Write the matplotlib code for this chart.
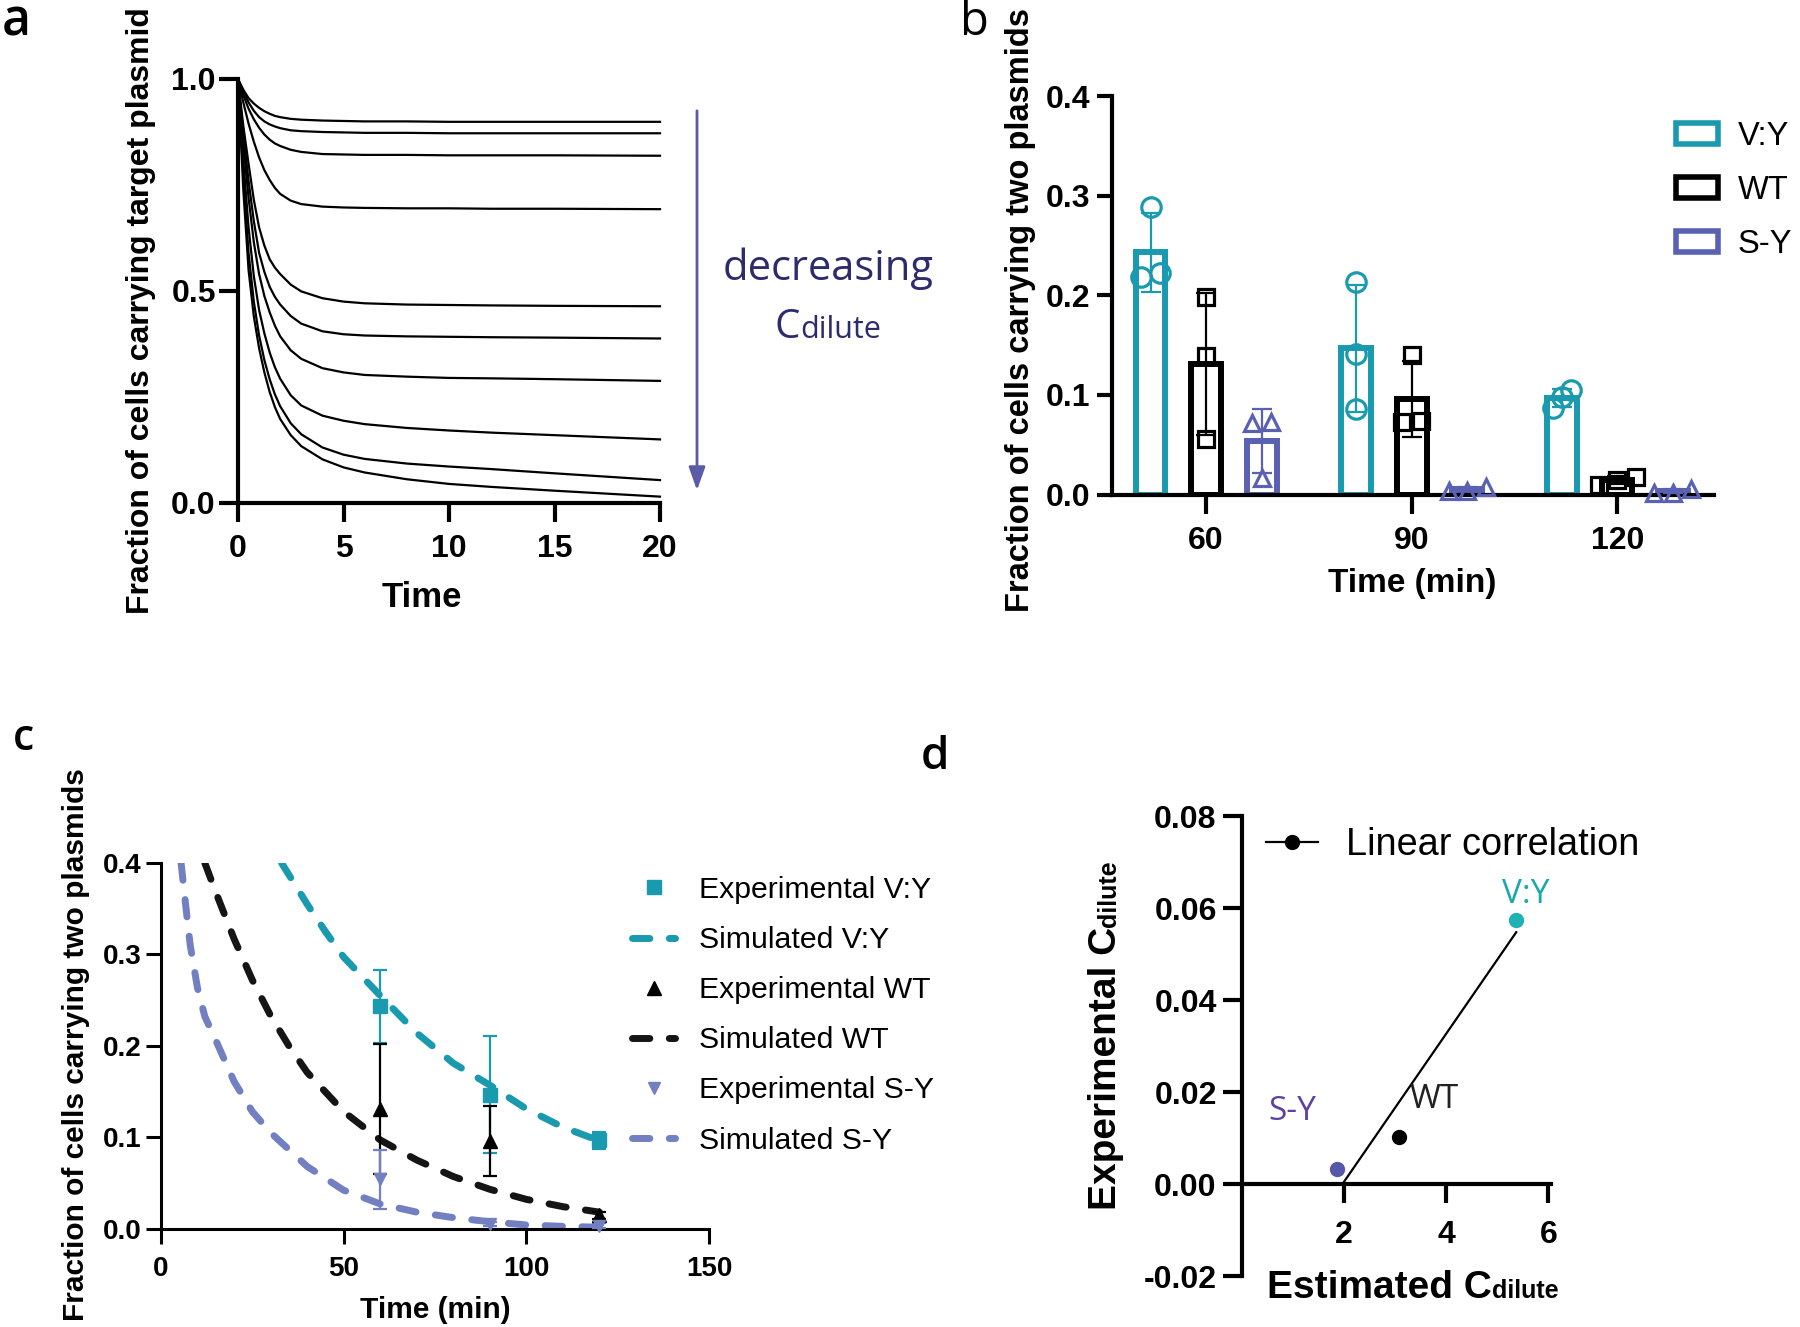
import numpy as np
import matplotlib
matplotlib.use('Agg')
import matplotlib.pyplot as plt
from matplotlib.patches import Patch
from matplotlib.lines import Line2D

# ---- data ----
# panel a: simulated fraction carrying target plasmid
time_a = [0, 0.25, 0.5, 0.75, 1, 1.25, 1.5, 1.75, 2, 2.5, 3, 4, 5, 6, 8, 10, 12, 15, 20]
frac_curves = [
    [1.0, 0.975, 0.955, 0.942, 0.932, 0.924, 0.918, 0.913, 0.910, 0.906, 0.904, 0.902, 0.901, 0.900, 0.900, 0.899, 0.899, 0.899, 0.899],
    [1.0, 0.970, 0.945, 0.925, 0.910, 0.900, 0.893, 0.888, 0.884, 0.879, 0.877, 0.875, 0.874, 0.873, 0.873, 0.872, 0.872, 0.872, 0.872],
    [1.0, 0.962, 0.930, 0.905, 0.885, 0.869, 0.857, 0.848, 0.842, 0.833, 0.828, 0.823, 0.822, 0.821, 0.821, 0.820, 0.820, 0.820, 0.819],
    [1.0, 0.945, 0.895, 0.852, 0.815, 0.785, 0.762, 0.743, 0.729, 0.713, 0.705, 0.699, 0.697, 0.696, 0.695, 0.695, 0.694, 0.694, 0.693],
    [1.0, 0.890, 0.800, 0.715, 0.650, 0.607, 0.575, 0.555, 0.540, 0.515, 0.499, 0.483, 0.475, 0.471, 0.468, 0.467, 0.466, 0.465, 0.464],
    [1.0, 0.870, 0.760, 0.665, 0.590, 0.545, 0.510, 0.486, 0.468, 0.441, 0.423, 0.405, 0.398, 0.395, 0.393, 0.392, 0.391, 0.390, 0.388],
    [1.0, 0.850, 0.720, 0.615, 0.540, 0.488, 0.450, 0.418, 0.393, 0.360, 0.340, 0.318, 0.308, 0.302, 0.298, 0.295, 0.294, 0.292, 0.288],
    [1.0, 0.810, 0.650, 0.535, 0.455, 0.400, 0.355, 0.320, 0.293, 0.254, 0.230, 0.206, 0.194, 0.186, 0.177, 0.171, 0.166, 0.160, 0.150],
    [1.0, 0.770, 0.590, 0.475, 0.395, 0.337, 0.292, 0.256, 0.228, 0.188, 0.162, 0.131, 0.114, 0.104, 0.093, 0.086, 0.080, 0.070, 0.054],
    [1.0, 0.740, 0.550, 0.440, 0.365, 0.308, 0.262, 0.226, 0.198, 0.160, 0.134, 0.103, 0.084, 0.072, 0.056, 0.045, 0.038, 0.029, 0.015],
]

# panel b: replicate fractions carrying two plasmids
times_b = [60, 90, 120]
vy_reps = [[0.289, 0.218, 0.222], [0.213, 0.141, 0.086], [0.105, 0.098, 0.087]]
wt_reps = [[0.198, 0.139, 0.056], [0.140, 0.073, 0.074], [0.018, 0.015, 0.010]]
sy_reps = [[0.072, 0.073, 0.017], [0.008, 0.004, 0.004], [0.006, 0.002, 0.002]]

# panel c: simulated curves
t_sim_vy = [33, 40, 45, 50, 60, 70, 80, 90, 100, 110, 120]
v_sim_vy = [0.40, 0.355, 0.325, 0.297, 0.255, 0.214, 0.181, 0.157, 0.131, 0.111, 0.096]
t_sim_wt = [12, 15, 20, 25, 30, 35, 40, 50, 60, 70, 80, 90, 100, 110, 120]
v_sim_wt = [0.40, 0.368, 0.317, 0.272, 0.233, 0.200, 0.171, 0.128, 0.097, 0.075, 0.057, 0.043, 0.032, 0.024, 0.018]
t_sim_sy = [5.5, 7, 8, 10, 12, 15, 20, 25, 30, 40, 50, 60, 70, 80, 90, 100, 110, 120]
v_sim_sy = [0.40, 0.345, 0.31, 0.263, 0.232, 0.206, 0.161, 0.128, 0.105, 0.068, 0.042, 0.027,
            0.018, 0.012, 0.0075, 0.004, 0.0025, 0.0015]

# panel d: estimated vs experimental C_dilute
strains_d = ['S-Y', 'WT', 'V:Y']
est_cdil = [1.86, 3.08, 5.37]
exp_cdil = [0.0032, 0.0102, 0.0574]

teal = '#1a9aae'
slate = '#5a61b2'
sy_line = '#7280c2'

plt.rcParams['font.family'] = ['Liberation Sans', 'DejaVu Sans']
plt.rcParams['font.weight'] = 'bold'
plt.rcParams['axes.unicode_minus'] = False

W, H = 1800, 1327
fig = plt.figure(figsize=(18, 13.27), dpi=100)


def fx(px):
    return px / W


def fy(py):
    return 1 - py / H


def box(l, t, r, b):
    return [fx(l), fy(b), (r - l) / W, (b - t) / H]


def style(ax, lw, tlen, tpad_x, tpad_y, size):
    for s in ['top', 'right']:
        ax.spines[s].set_visible(False)
    for s in ['left', 'bottom']:
        ax.spines[s].set_linewidth(lw)
    ax.tick_params(axis='both', width=lw, length=tlen, labelsize=size, direction='out')
    ax.tick_params(axis='x', pad=tpad_x)
    ax.tick_params(axis='y', pad=tpad_y)


humanist = ['Open Sans', 'DejaVu Sans']

# ---------------- panel a ----------------
ax_a = fig.add_axes(box(238, 79, 660, 503))
for vals in frac_curves:
    ax_a.plot(time_a, vals, color='black', lw=1.6, clip_on=False)
ax_a.set_xlim(0, 20)
ax_a.set_ylim(0, 1)
ax_a.set_xticks([0, 5, 10, 15, 20])
ax_a.set_yticks([0, 0.5, 1.0])
ax_a.set_yticklabels(['0.0', '0.5', '1.0'])
style(ax_a, 3, 14, 8, 2, 23)
fig.text(fx(141), fy(311), 'Fraction of cells carrying target plasmid', rotation=90,
         ha='center', va='center', fontsize=23)
fig.text(fx(422), fy(607), 'Time', ha='center', va='baseline', fontsize=25)

ax_a.annotate('', xy=(fx(697), fy(493)), xytext=(fx(697), fy(108)),
              xycoords='figure fraction', textcoords='figure fraction',
              arrowprops=dict(arrowstyle='-|>,head_length=1.4,head_width=0.5',
                              color='#5b5ba8', lw=2))
navy = '#2b2b6e'
fig.text(fx(828), fy(280), 'decreasing', ha='center', va='baseline', fontsize=30,
         family=humanist, weight='normal', color=navy)
fig.text(fx(800), fy(338), 'C', ha='right', va='baseline', fontsize=29,
         family=humanist, weight='normal', color=navy)
fig.text(fx(800), fy(338), 'dilute', ha='left', va='baseline', fontsize=22,
         family=humanist, weight='normal', color=navy)

# ---------------- panel b ----------------
ax_b = fig.add_axes(box(1111.5, 96, 1714, 494.5))
groups = [('V:Y', vy_reps, teal, 'o', 14), ('WT', wt_reps, 'black', 's', 11),
          ('S-Y', sy_reps, slate, '^', 12)]
offset = 0.27
bar_w = 0.145


def spread(vals, tol=0.012, step=0.09):
    offs = np.zeros(len(vals))
    order = np.argsort(vals)
    for i in range(len(vals)):
        close = [j for j in order if abs(vals[j] - vals[i]) < tol]
        if len(close) > 1:
            k = close.index(i)
            offs[i] = (k - (len(close) - 1) / 2) * step
    return offs


xpos = np.arange(len(times_b))
for gi, (name, reps, col, mk, ms) in enumerate(groups):
    reps = np.array(reps)
    means = reps.mean(axis=1)
    sds = reps.std(axis=1, ddof=1)
    xs = xpos + (gi - 1) * offset
    ax_b.bar(xs, means, width=bar_w, facecolor='white', edgecolor=col, linewidth=4.3, zorder=2)
    ax_b.errorbar(xs, means, yerr=sds, fmt='none', ecolor=col, elinewidth=1.6,
                  capsize=7, capthick=1.6, zorder=3)
    for x, r in zip(xs, reps):
        ax_b.plot(x + spread(r), r, ls='none', marker=mk, ms=ms, mfc='none', mec=col,
                  mew=2.3, zorder=4, clip_on=False)

ax_b.set_xlim(-0.46, 2.47)
ax_b.set_ylim(0, 0.4)
ax_b.set_xticks(xpos)
ax_b.set_xticklabels([str(t) for t in times_b])
ax_b.set_yticks([0, 0.1, 0.2, 0.3, 0.4])
ax_b.set_yticklabels(['0.0', '0.1', '0.2', '0.3', '0.4'])
style(ax_b, 3, 11, 9, 4, 23)
ax_b.tick_params(axis='x', length=14)
fig.text(fx(1020), fy(310), 'Fraction of cells carrying two plasmids', rotation=90,
         ha='center', va='center', fontsize=23.5)
fig.text(fx(1412), fy(592), 'Time (min)', ha='center', va='baseline', fontsize=24)

leg_b = [Patch(facecolor='white', edgecolor=c, linewidth=4, label=n) for n, _, c, _, _ in groups]
fig.legend(handles=leg_b, loc='upper left', bbox_to_anchor=(fx(1676), fy(121)),
           frameon=False, borderpad=0, borderaxespad=0, handlelength=1.3, handleheight=0.62,
           handletextpad=0.6, labelspacing=0.7, prop={'weight': 'normal', 'size': 23.5})

# ---------------- panel c ----------------
ax_c = fig.add_axes(box(161, 863, 709, 1228.6))
dash = (2.5, 2.8)
ax_c.plot(t_sim_vy, v_sim_vy, color=teal, lw=5, dashes=dash, dash_capstyle='round', zorder=2)
ax_c.plot(t_sim_wt, v_sim_wt, color='#151515', lw=5, dashes=dash, dash_capstyle='round', zorder=2)
ax_c.plot(t_sim_sy, v_sim_sy, color=sy_line, lw=5, dashes=dash, dash_capstyle='round', zorder=2)

exp_specs = [(vy_reps, teal, 's', 10), (wt_reps, 'black', '^', 10), (sy_reps, sy_line, 'v', 9)]
for reps, col, mk, ms in exp_specs:
    reps = np.array(reps)
    ax_c.errorbar(times_b, reps.mean(axis=1), yerr=reps.std(axis=1, ddof=1), fmt=mk,
                  color=col, ms=ms, elinewidth=1.6, capsize=5, capthick=1.6, zorder=3,
                  clip_on=False)
ax_c.set_xlim(0, 150)
ax_c.set_ylim(0, 0.4)
ax_c.set_xticks([0, 50, 100, 150])
ax_c.set_yticks([0, 0.1, 0.2, 0.3, 0.4])
ax_c.set_yticklabels(['0.0', '0.1', '0.2', '0.3', '0.4'])
style(ax_c, 2.2, 11, 9, 3, 20)
fig.text(fx(76), fy(1045), 'Fraction of cells carrying two plasmids', rotation=90,
         ha='center', va='center', fontsize=21.5)
fig.text(fx(435), fy(1318), 'Time (min)', ha='center', va='baseline', fontsize=21.5)

leg_c = [
    Line2D([], [], ls='none', marker='s', color=teal, ms=10, label='Experimental V:Y'),
    Line2D([], [], color=teal, lw=5, dashes=dash, dash_capstyle='round', label='Simulated V:Y'),
    Line2D([], [], ls='none', marker='^', color='black', ms=10, label='Experimental WT'),
    Line2D([], [], color='#151515', lw=5, dashes=dash, dash_capstyle='round', label='Simulated WT'),
    Line2D([], [], ls='none', marker='v', color=sy_line, ms=9, label='Experimental S-Y'),
    Line2D([], [], color=sy_line, lw=5, dashes=dash, dash_capstyle='round', label='Simulated S-Y'),
]
fig.legend(handles=leg_c, loc='upper left', bbox_to_anchor=(fx(632), fy(876)),
           frameon=False, borderpad=0, borderaxespad=0, handlelength=1.43, handletextpad=0.78,
           labelspacing=0.73, prop={'weight': 'normal', 'size': 21.8})

# ---------------- panel d ----------------
ax_d = fig.add_axes(box(1241.7, 816, 1551, 1276))
slope, icpt = np.polyfit(est_cdil, exp_cdil, 1)
x_fit = np.array([-icpt / slope, max(est_cdil)])
ax_d.plot(x_fit, slope * x_fit + icpt, color='black', lw=1.6, zorder=2)
d_cols = {'S-Y': '#5656aa', 'WT': 'black', 'V:Y': '#1fb2b2'}
for s, x, y in zip(strains_d, est_cdil, exp_cdil):
    ax_d.plot(x, y, 'o', color=d_cols[s], ms=10, zorder=3)
ax_d.set_xlim(0, 6.05)
ax_d.set_ylim(-0.02, 0.08)
ax_d.spines['bottom'].set_position(('data', 0))
ax_d.set_xticks([2, 4, 6])
ax_d.set_yticks([-0.02, 0, 0.02, 0.04, 0.06, 0.08])
ax_d.set_yticklabels(['-0.02', '0.00', '0.02', '0.04', '0.06', '0.08'])
style(ax_d, 3, 14, 12, 4, 23)

ax_d.text(5.56, 0.0630, 'V:Y', ha='center', va='center', fontsize=24, family=humanist,
          weight='normal', color='#1aa9a9')
ax_d.text(3.76, 0.0183, 'WT', ha='center', va='center', fontsize=24, family=humanist,
          weight='normal', color='#222222')
ax_d.text(0.98, 0.0157, 'S-Y', ha='center', va='center', fontsize=24, family=humanist,
          weight='normal', color='#5e40a0')

leg_d = [Line2D([], [], color='black', lw=1.6, marker='o', ms=10, label='Linear correlation')]
fig.legend(handles=leg_d, loc='upper left', bbox_to_anchor=(fx(1266), fy(827)),
           frameon=False, borderpad=0, borderaxespad=0, handlelength=1.36, handletextpad=0.76,
           numpoints=1, prop={'weight': 'normal', 'size': 27.3})

fig.text(fx(1116), fy(927), 'Experimental C', rotation=90, rotation_mode='anchor',
         ha='right', va='baseline', fontsize=28)
fig.text(fx(1116), fy(927), 'dilute', rotation=90, rotation_mode='anchor',
         ha='left', va='baseline', fontsize=18)
fig.text(fx(1492), fy(1298), 'Estimated C', ha='right', va='baseline', fontsize=28)
fig.text(fx(1492), fy(1298), 'dilute', ha='left', va='baseline', fontsize=18)

# panel letters
fig.text(fx(2), fy(35), 'a', ha='left', va='baseline', fontsize=36, family=humanist, weight='semibold')
fig.text(fx(960), fy(35), 'b', ha='left', va='baseline', fontsize=34, family=humanist, weight='normal')
fig.text(fx(13), fy(750), 'c', ha='left', va='baseline', fontsize=31, family=humanist, weight='semibold')
fig.text(fx(921), fy(769), 'd', ha='left', va='baseline', fontsize=33, family=humanist, weight='semibold')

fig.savefig('out.png', dpi=100)
